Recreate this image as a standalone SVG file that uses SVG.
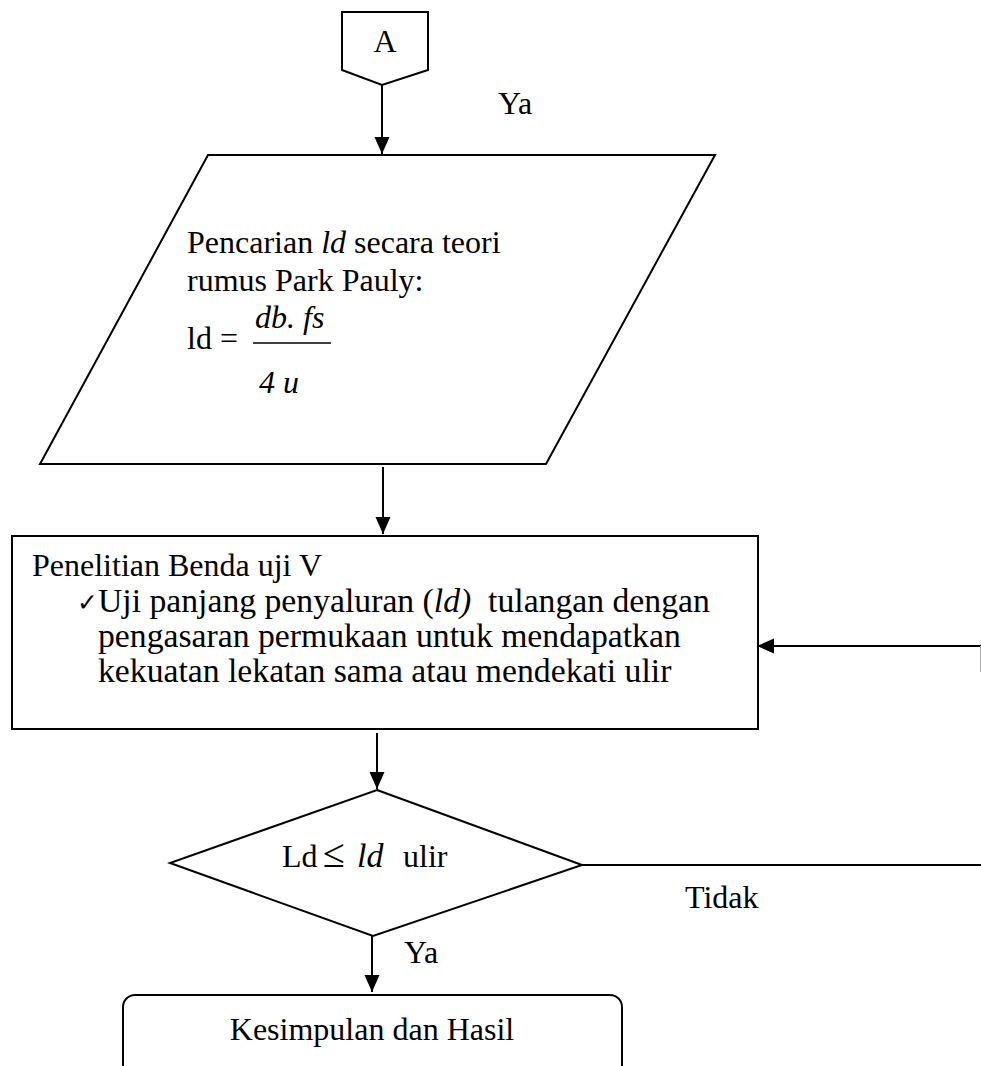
<svg xmlns="http://www.w3.org/2000/svg" width="981" height="1066" viewBox="0 0 981 1066">
<style>
.s{fill:#fff;stroke:#000;stroke-width:2}
.t{font-family:"Liberation Serif","Times New Roman",serif;font-size:32px;fill:#000}
.b{font-size:33.7px}
.c{stroke:#000;stroke-width:2;fill:none}
</style>
<defs>
<marker id="ah" markerUnits="userSpaceOnUse" markerWidth="18" markerHeight="18" viewBox="0 0 18 18" refX="17" refY="9" orient="auto">
<path d="M0,1.5 L17,9 L0,16.5 Z" fill="#000"/>
</marker>
</defs>
<rect width="981" height="1066" fill="#fff"/>
<g id="connectors">
<line class="c" x1="382" y1="85" x2="382" y2="154" marker-end="url(#ah)"/>
<line class="c" x1="383" y1="467" x2="383" y2="534" marker-end="url(#ah)"/>
<line class="c" x1="377" y1="733" x2="377" y2="789" marker-end="url(#ah)"/>
<line class="c" x1="372" y1="936" x2="372" y2="992" marker-end="url(#ah)"/>
<line class="c" x1="582" y1="865" x2="981" y2="865"/>
<line class="c" x1="981" y1="646" x2="757" y2="646" marker-end="url(#ah)"/>
<line x1="980.5" y1="646" x2="980.5" y2="672" stroke="#aaa" stroke-width="1"/>
<text class="t" x="498" y="114">Ya</text>
<text class="t" x="685" y="908">Tidak</text>
<text class="t" x="404" y="963">Ya</text>
</g>
<g id="node-a">
<polygon class="s" points="342,12 428,12 428,70 382,85 342,70"/>
<text class="t" x="385" y="52" text-anchor="middle">A</text>
</g>
<g id="node-input">
<polygon class="s" points="208,155 715,155 546,464 40,464"/>
<text class="t" x="187" y="253">Pencarian <tspan font-style="italic">ld</tspan> secara teori</text>
<text class="t" x="187" y="291">rumus Park Pauly:</text>
<text class="t" x="187" y="349">ld =</text>
<text class="t" x="255" y="328" font-style="italic">db. fs</text>
<line x1="253" y1="343" x2="331" y2="343" stroke="#000" stroke-width="1.5"/>
<text class="t" x="259" y="393" font-style="italic">4 u</text>
</g>
<g id="node-process">
<rect class="s" x="12" y="536" width="746" height="193"/>
<text class="t" x="32" y="576">Penelitian Benda uji V</text>
<text x="77" y="611" font-family="DejaVu Sans,sans-serif" font-size="25">✓</text>
<text class="t b" x="98" y="612" xml:space="preserve">Uji panjang penyaluran (<tspan font-style="italic">ld)</tspan>  tulangan dengan</text>
<text class="t b" x="98" y="647">pengasaran permukaan untuk mendapatkan</text>
<text class="t b" x="98" y="682">kekuatan lekatan sama atau mendekati ulir</text>
</g>
<g id="node-decision">
<polygon class="s" points="377,790 582,865 373,936 170,863"/>
<text class="t" y="867"><tspan x="282">Ld</tspan><tspan x="323" font-size="40">≤</tspan><tspan x="357" font-style="italic" font-size="34">ld</tspan><tspan x="403">ulir</tspan></text>
</g>
<g id="node-end">
<rect class="s" x="123" y="995" width="499" height="90" rx="12"/>
<text class="t" x="372" y="1040" text-anchor="middle">Kesimpulan dan Hasil</text>
</g>
</svg>
